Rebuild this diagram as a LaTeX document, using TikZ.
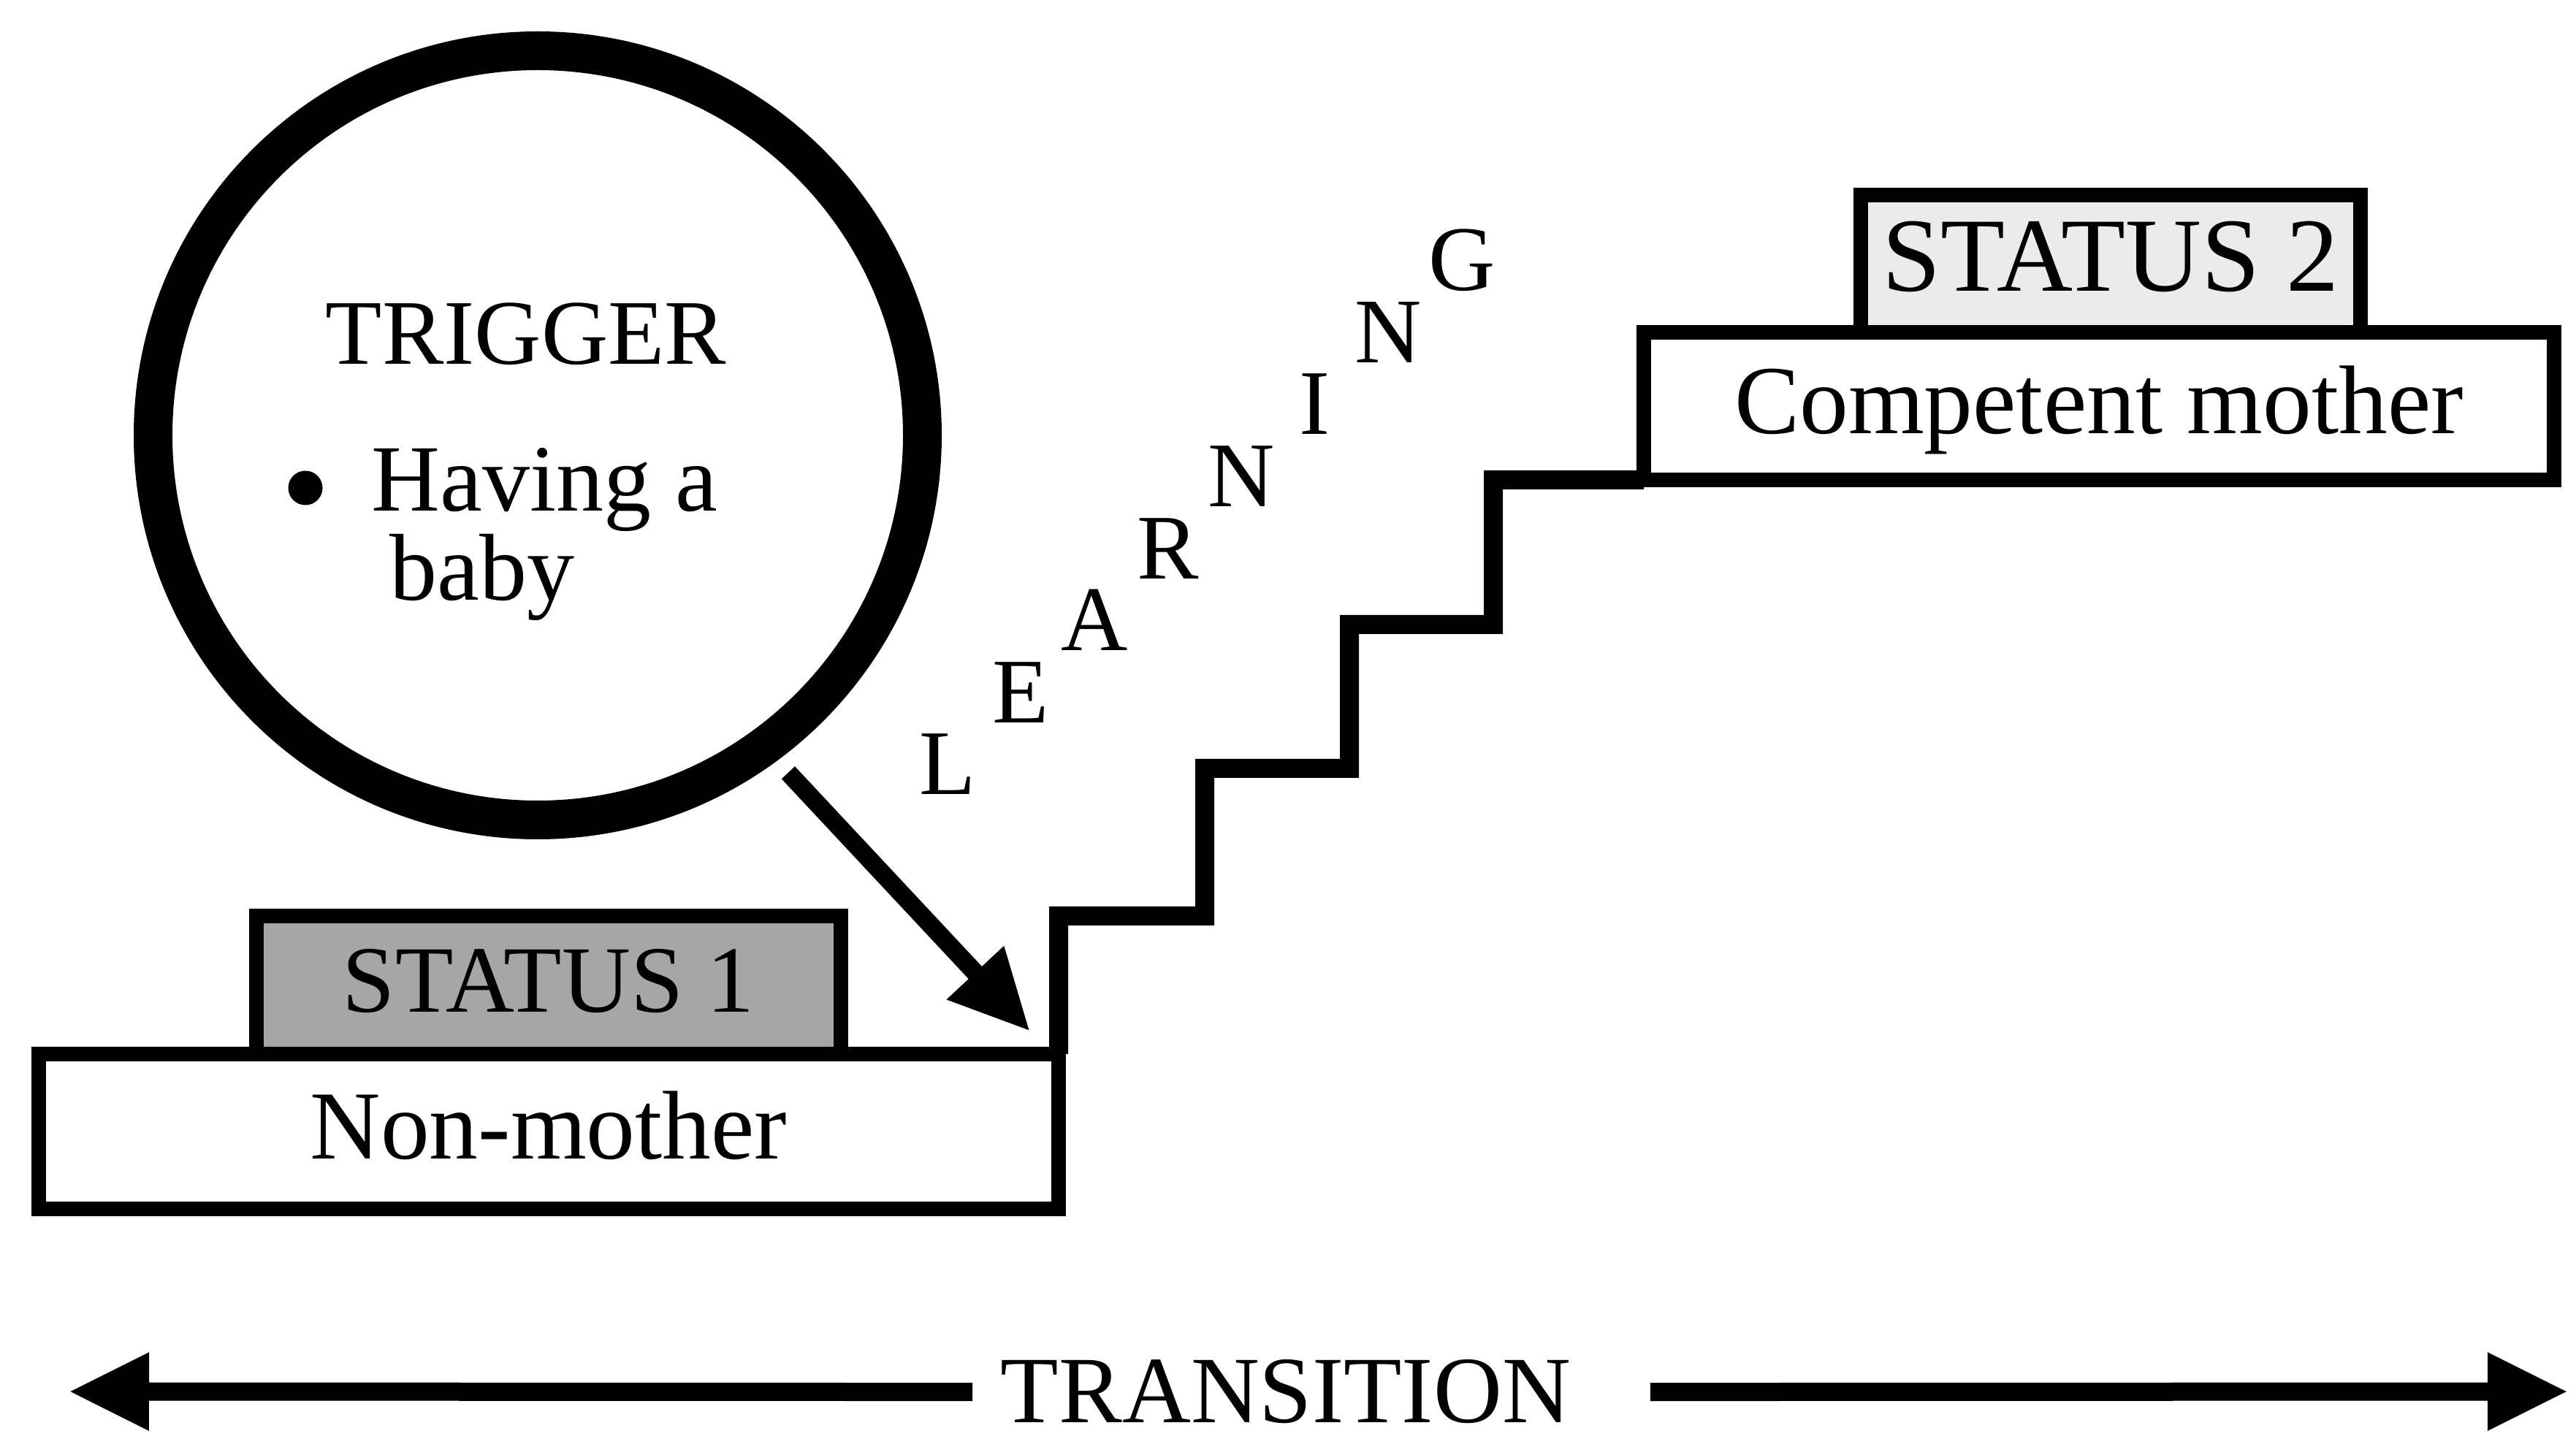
\documentclass[tikz,border=0pt]{standalone}
\usepackage{fontspec}
\setmainfont{Liberation Serif}
\usepackage{tikz}
\usetikzlibrary{arrows.meta, calc}

\begin{document}
\begin{tikzpicture}[>={Triangle[length=1.1cm,width=1cm]},
    box/.style = {draw, rectangle, line width=0.2cm, outer sep=0, inner sep=0, text height=0.95cm, text depth=0.2cm, font=\fontsize{38}{40}\selectfont},
    statusbox/.style = {box, font=\fontsize{37}{40}\selectfont},
    letter/.style = {anchor=base, inner sep=0, font=\fontsize{36}{40}\selectfont}]
    \useasboundingbox (0,0) rectangle (35.26,-19.70);

    % Trigger
    \node [circle, draw, line width=0.53cm, minimum size=10.53cm, outer sep=0] (trigger) at (7.36,-5.96) {};
    \node [letter] (triggerTitle) at (7.20,-4.99) {TRIGGER};
    \node [circle, fill, inner sep=0, minimum size=0.47cm] (bullet) at (4.18,-6.68) {};
    \node [letter, anchor=base west, font=\fontsize{37}{40}\selectfont] (having) at (5.08,-7.00) {Having a};
    \node [letter, anchor=base west, font=\fontsize{37}{40}\selectfont] (baby) at (5.33,-8.22) {baby};

    % Status 1
    \node [box, minimum width=13.96cm, minimum height=2.12cm] (nonmother) at (7.51,-15.49) {Non-mother\hspace{0.6cm}};
    \node [statusbox, fill=black!35, above of=nonmother, node distance=2.005cm, minimum width=8cm, minimum height=1.89cm] (status1) {STATUS 1};

    % Status 2
    \node [box, minimum width=12.46cm, minimum height=2.02cm] (competent) at (28.73,-5.56) {Competent mother};
    \node [statusbox, fill=black!8, above of=competent, node distance=1.95cm, xshift=0.16cm, minimum width=6.84cm, minimum height=1.88cm, font=\fontsize{41}{40}\selectfont] (status2) {STATUS 2};

    % Stairs
    \draw [line width=0.26cm] (nonmother.north east) -- ++(0,1.89) -- ++(2,0) -- ++(0,2.02) -- ++(1.98,0) -- ++(0,1.97) -- ++(1.97,0) -- ++(0,1.98) -- (competent.south west);

    % Learning
    \foreach \ch [count=\i from 0] in {L,E,A,R,N,I,N,G}
        \node [letter] (learn\i) at ({12.97+1.006*\i},{-10.88+0.986*\i}) {\ch};

    % Arrow to the first step
    \coordinate (firstStep) at (14.10,-14.12);
    \draw [->, line width=0.25cm, shorten <=0.49cm] (trigger.-54) -- (firstStep);

    % Transition
    \node [letter, font=\fontsize{37}{40}\selectfont] (transition) at (17.60,-19.48) {TRANSITION};
    \coordinate (tleft) at (0.94,-19.05);
    \coordinate (tright) at (35.15,-19.05);
    \draw [->, line width=0.25cm] ([xshift=-0.38cm]transition.west) -- (tleft);
    \draw [->, line width=0.25cm] ([xshift=1.08cm]transition.east) -- (tright);
\end{tikzpicture}
\end{document}
